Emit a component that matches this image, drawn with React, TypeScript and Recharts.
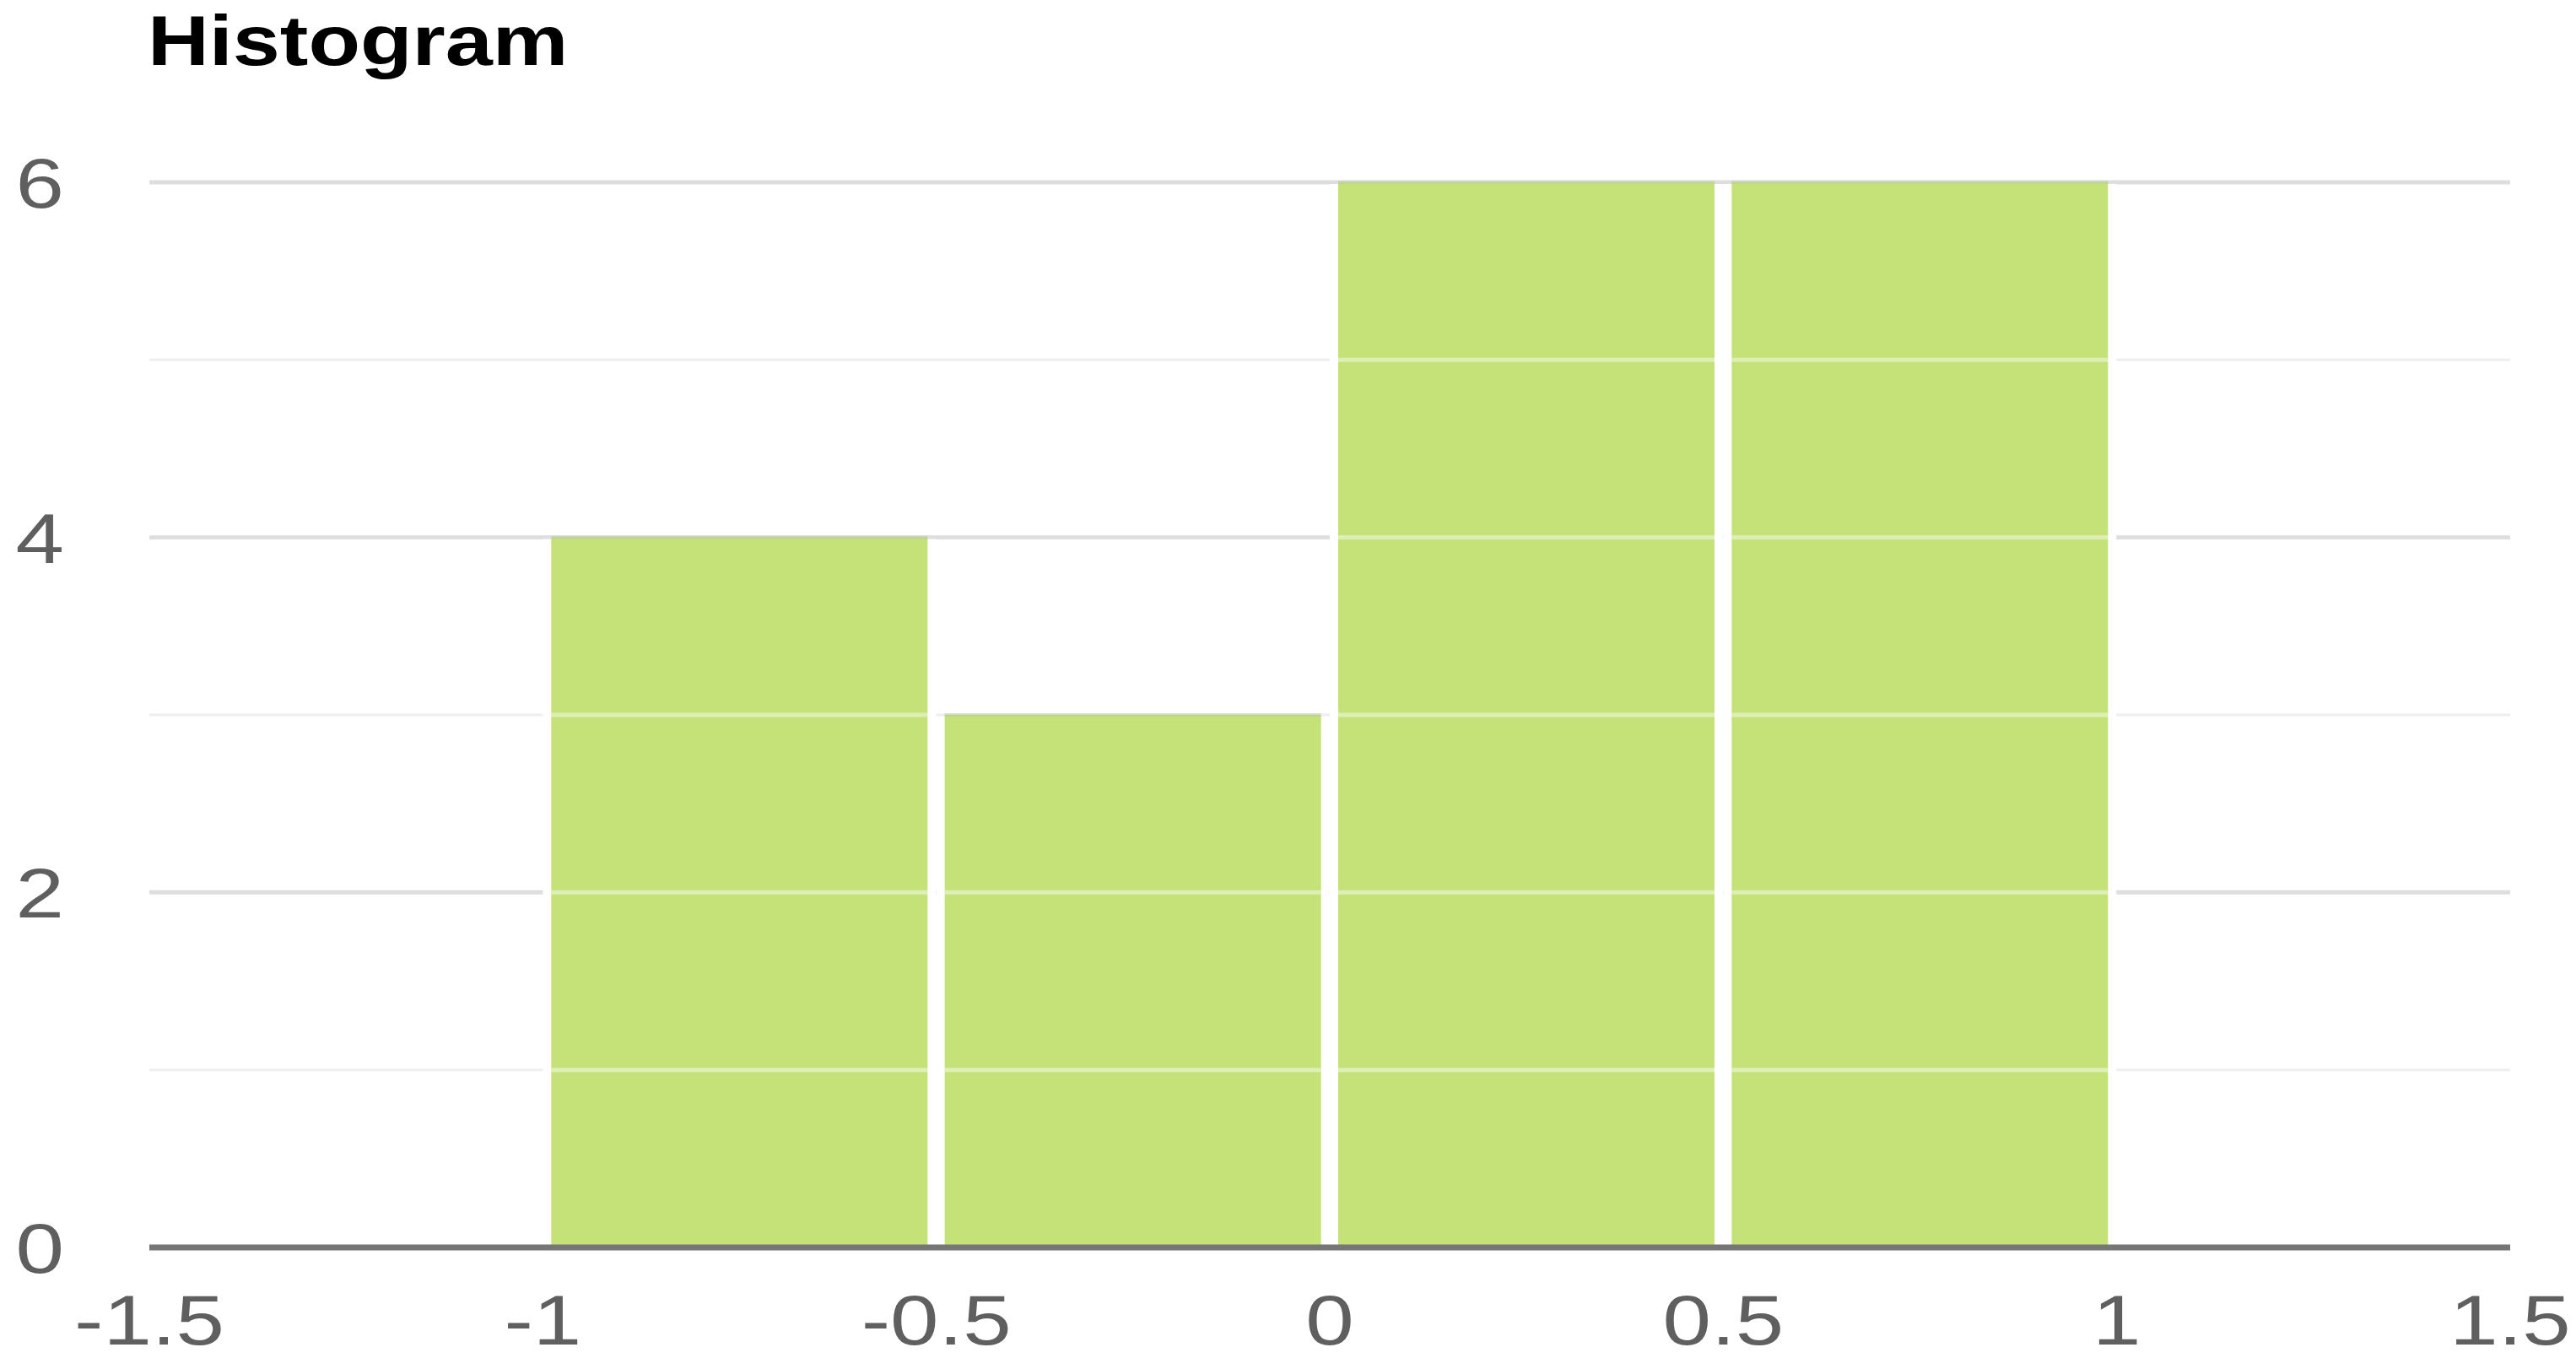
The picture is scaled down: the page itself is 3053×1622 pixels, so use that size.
import React from 'react';
import { BarChart, Bar, XAxis, YAxis, CartesianGrid } from 'recharts';

const binMids = [-0.75, -0.25, 0.25, 0.75];
const counts = [4, 3, 6, 6];
const xTicks = [-1.5, -1, -0.5, 0, 0.5, 1, 1.5];
const yTicks = [0, 1, 2, 3, 4, 5, 6];
const majorGrid = [0, 2, 4, 6];
const minorGrid = [1, 3, 5];

const data = binMids.map((mid, i) => ({ mid, count: counts[i] }));

const FONT = '"Liberation Sans", Arial, sans-serif';
const STRETCH = 1.23;

// bars are drawn as a white band (the gap) with the green block inside,
// plus faint lines at each unit like the stacked items of a histogram
const HistBar = (props: any) => {
  const { x, y, width, height, payload } = props;
  const gap = 10;
  const unit = height / payload.count;
  const steps = [];
  for (let k = 1; k < payload.count; k++) steps.push(y + height - k * unit);
  return (
    <g>
      <rect x={x} y={y + 2} width={width} height={height - 2} fill="#ffffff" />
      <rect x={x + gap} y={y} width={width - 2 * gap} height={height} fill="#c4e278" />
      <line x1={x + gap} x2={x + width - gap} y1={y} y2={y} stroke="#b9c7a0" strokeOpacity={0.5} strokeWidth={4} />
      {steps.map((ly) => (
        <line key={ly} x1={x + gap} x2={x + width - gap} y1={ly} y2={ly} stroke="#ffffff" strokeOpacity={0.45} strokeWidth={5} />
      ))}
    </g>
  );
};

const XTick = ({ x, y, payload }: any) => (
  <g transform={`translate(${x},${y})`}>
    <text transform={`scale(${STRETCH},1)`} y={115} textAnchor="middle" fill="#5f5f5f" fontSize={84} fontFamily={FONT}>
      {payload.value}
    </text>
  </g>
);

const YTick = ({ x, y, payload }: any) => {
  if (payload.value % 2 !== 0) return null;
  return (
    <g transform={`translate(${x},${y})`}>
      <text transform={`scale(${STRETCH},1)`} y={30} textAnchor="end" fill="#5f5f5f" fontSize={84} fontFamily={FONT}>
        {payload.value}
      </text>
    </g>
  );
};

export default function App() {
  return (
    <div style={{ position: 'relative', width: 3053, height: 1622, background: '#fff' }}>
      <style>{'body{margin:0}'}</style>
      <div
        style={{
          position: 'absolute',
          left: 175,
          top: 6,
          fontFamily: FONT,
          fontWeight: 'bold',
          fontSize: 84,
          lineHeight: '84px',
          color: '#000',
          transform: 'scaleX(1.2)',
          transformOrigin: 'left top',
          whiteSpace: 'nowrap',
        }}
      >
        Histogram
      </div>
      <BarChart
        width={3053}
        height={1622}
        data={data}
        margin={{ top: 216, right: 78, bottom: 0, left: 0 }}
        barCategoryGap={0}
      >
        <CartesianGrid vertical={false} horizontalValues={minorGrid} stroke="#eeeeee" strokeWidth={3} />
        <CartesianGrid vertical={false} horizontalValues={majorGrid} stroke="#dedede" strokeWidth={5} />
        <XAxis
          dataKey="mid"
          type="number"
          domain={[-1.5, 1.5]}
          ticks={xTicks}
          interval={0}
          height={144}
          tickLine={false}
          tickSize={0}
          tickMargin={0}
          axisLine={{ stroke: '#767676', strokeWidth: 7 }}
          tick={<XTick />}
        />
        <YAxis
          type="number"
          domain={[0, 6]}
          ticks={yTicks}
          interval={0}
          width={177}
          tickLine={false}
          axisLine={false}
          tickSize={0}
          tickMargin={101}
          tick={<YTick />}
        />
        <Bar dataKey="count" shape={<HistBar />} isAnimationActive={false} />
      </BarChart>
    </div>
  );
}
